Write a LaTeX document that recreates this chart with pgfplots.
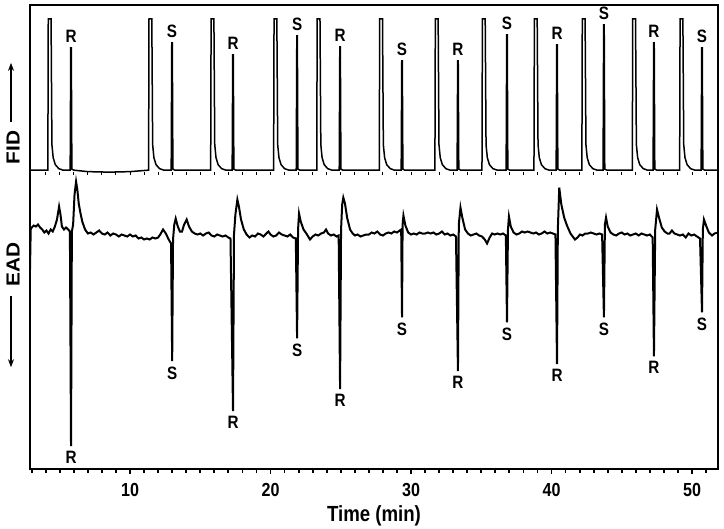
\documentclass[border=0pt]{standalone}
\usepackage{fontspec}
\setmainfont{Liberation Sans}[FakeStretch=0.85]
\newfontfamily\vertfont{Liberation Sans}[FakeStretch=1.1]
\usepackage{pgfplots}
\pgfplotsset{compat=1.18}
\usetikzlibrary{arrows.meta}

\newcommand{\pk}{\bfseries\fontsize{9}{9}\selectfont}

\begin{document}
\begin{tikzpicture}
\begin{axis}[
    scale only axis,
    width=344bp, height=232bp,
    xmin=2.88, xmax=51.85, ymin=0, ymax=465,
    clip=false,
    axis line style={line width=0.9bp},
    xtick={10,20,30,40,50},
    xticklabels={10,20,30,40,50},
    minor xtick={3,4,...,51},
    xtick pos=bottom, ytick=\empty,
    tick align=outside,
    major tick length=2.4bp, minor tick length=1.8bp,
    every tick/.style={black, line width=0.9bp},
    /pgf/number format/assume math mode=true,
    xticklabel style={font=\bfseries\fontsize{9.5}{9.5}\selectfont, yshift=-1bp},
    xlabel={Time (min)},
    xlabel style={font=\bfseries\fontsize{11}{11}\selectfont,
        at={(rel axis cs:0.5,0)}, anchor=north, inner sep=0pt, yshift=-18bp},
]

% FID trace
\addplot[black, line width=0.75bp] coordinates {
(2.88,299.5)
(4.15,299.5)(4.18,451)(4.38,451)(4.44,325)(4.53,312)(4.68,305)(4.93,301)(5.23,299.5)
(5.74,299.5)(5.78,422)(5.82,422)(5.86,300.5)(6.00,299.5)
(7.0,298)(8.5,297.5)(10.0,298)
(11.32,299.5)(11.35,451)(11.55,451)(11.61,325)(11.70,312)(11.85,305)(12.10,301)(12.40,299.5)
(12.93,299.5)(12.97,427)(13.01,427)(13.05,300.5)(13.19,299.5)
(15.74,299.5)(15.77,451)(15.97,451)(16.03,325)(16.12,312)(16.27,305)(16.52,301)(16.82,299.5)
(17.27,299.5)(17.31,415)(17.35,415)(17.39,300.5)(17.53,299.5)
(20.22,299.5)(20.25,451)(20.45,451)(20.51,325)(20.60,312)(20.75,305)(21.00,301)(21.30,299.5)
(21.83,299.5)(21.87,434)(21.91,434)(21.95,300.5)(22.09,299.5)
(23.29,299.5)(23.32,451)(23.52,451)(23.58,325)(23.67,312)(23.82,305)(24.07,301)(24.37,299.5)
(24.89,299.5)(24.93,423)(24.97,423)(25.01,300.5)(25.15,299.5)
(27.74,299.5)(27.77,451)(27.97,451)(28.03,325)(28.12,312)(28.27,305)(28.52,301)(28.82,299.5)
(29.30,299.5)(29.34,409)(29.38,409)(29.42,300.5)(29.56,299.5)
(31.70,299.5)(31.73,451)(31.93,451)(31.99,325)(32.08,312)(32.23,305)(32.48,301)(32.78,299.5)
(33.28,299.5)(33.32,409)(33.36,409)(33.40,300.5)(33.54,299.5)
(35.05,299.5)(35.08,451)(35.28,451)(35.34,325)(35.43,312)(35.58,305)(35.83,301)(36.13,299.5)
(36.77,299.5)(36.81,435)(36.85,435)(36.89,300.5)(37.03,299.5)
(38.75,299.5)(38.78,451)(38.98,451)(39.04,325)(39.13,312)(39.28,305)(39.53,301)(39.83,299.5)
(40.33,299.5)(40.37,425)(40.41,425)(40.45,300.5)(40.59,299.5)
(42.16,299.5)(42.19,451)(42.39,451)(42.45,325)(42.54,312)(42.69,305)(42.94,301)(43.24,299.5)
(43.67,299.5)(43.71,445)(43.75,445)(43.79,300.5)(43.93,299.5)
(45.75,299.5)(45.78,451)(45.98,451)(46.04,325)(46.13,312)(46.28,305)(46.53,301)(46.83,299.5)
(47.23,299.5)(47.27,427)(47.31,427)(47.35,300.5)(47.49,299.5)
(49.12,299.5)(49.15,451)(49.35,451)(49.41,325)(49.50,312)(49.65,305)(49.90,301)(50.20,299.5)
(50.65,299.5)(50.69,422)(50.73,422)(50.77,300.5)(50.91,299.5)
(51.85,299.5)
};

% small ticks under the FID baseline
\addplot[only marks, mark=|, mark size=0.6bp, line width=0.5bp] coordinates {
(4,296)(5,296)(6,296)(7,296)(8,296)(9,296)(10,296)(11,296)(12,296)(13,296)
(14,296)(15,296)(16,296)(17,296)(18,296)(19,296)(20,296)(21,296)(22,296)(23,296)
(24,296)(25,296)(26,296)(27,296)(28,296)(29,296)(30,296)(31,296)(32,296)(33,296)
(34,296)(35,296)(36,296)(37,296)(38,296)(39,296)(40,296)(41,296)(42,296)(43,296)
(44,296)(45,296)(46,296)(47,296)(48,296)(49,296)(50,296)(51,296)
};

% EAD trace
\addplot[black, line width=1bp] coordinates {
(2.88,200)(2.93,240)(3.00,242)(3.15,244)(3.30,243)(3.45,245)(3.60,242)(3.75,240)
(3.90,237)(4.05,239)(4.20,236)(4.35,240)(4.50,238)(4.65,243)(4.80,250)(4.95,263)
(5.05,255)(5.15,243)(5.30,240)(5.45,242)(5.60,240)(5.72,238)
(5.80,23)(5.86,238)(5.95,245)(6.05,275)(6.16,288)(6.25,280)(6.35,266)(6.45,258)
(6.60,248)(6.80,240)(7.00,236)(7.20,237)(7.40,235)(7.60,237)(7.80,239)(8.00,236)
(8.20,235)(8.40,237)(8.60,234)(8.80,236)(9.00,235)(9.20,233)(9.40,235)(9.60,234)
(9.80,233)(10.00,235)(10.20,233)(10.40,234)(10.60,231)(10.80,232)(11.00,230)
(11.20,231)(11.40,230)(11.60,232)(11.80,231)(12.00,232)(12.15,235)(12.35,240)
(12.55,236)(12.75,230)(12.92,226)
(13.00,108)(13.06,230)(13.15,245)(13.25,251)(13.40,243)(13.55,238)(13.70,238)
(13.85,245)(14.03,250)(14.20,243)(14.40,238)(14.60,236)(14.80,235)(15.00,236)
(15.20,234)(15.40,236)(15.60,237)(15.80,234)(16.00,233)(16.20,235)(16.40,234)
(16.60,233)(16.80,234)(17.00,232)(17.15,231)
(17.33,58)(17.40,235)(17.50,255)(17.64,270)(17.75,263)(17.90,250)(18.10,240)
(18.30,235)(18.50,232)(18.70,234)(18.90,233)(19.10,236)(19.30,235)(19.50,233)
(19.70,236)(19.85,238)(20.00,235)(20.20,233)(20.40,234)(20.60,237)(20.80,235)
(21.00,234)(21.20,233)(21.40,235)(21.60,232)(21.80,231)
(21.89,131)(21.96,240)(22.03,256)(22.15,248)(22.35,240)(22.55,236)(22.81,230)
(23.00,233)(23.20,235)(23.40,234)(23.60,236)(23.80,237)(23.95,240)(24.10,236)
(24.30,234)(24.50,235)(24.70,233)(24.85,234)
(24.95,80)(25.02,240)(25.10,265)(25.18,272)(25.30,266)(25.45,252)(25.66,240)
(25.85,236)(26.01,234)(26.20,235)(26.40,233)(26.60,234)(26.80,235)(27.00,235)
(27.20,237)(27.40,236)(27.60,238)(27.80,235)(28.00,234)(28.20,236)(28.40,237)
(28.60,236)(28.80,238)(29.00,237)(29.20,239)(29.30,240)
(29.36,152)(29.40,245)(29.46,254)(29.60,244)(29.80,237)(30.00,235)(30.20,236)
(30.40,235)(30.60,237)(30.80,236)(31.00,236)(31.20,237)(31.40,236)(31.60,237)
(31.80,235)(32.00,236)(32.20,238)(32.40,235)(32.60,236)(32.80,234)(33.00,235)
(33.20,233)
(33.34,98)(33.40,245)(33.52,262)(33.65,252)(33.85,240)(34.05,236)(34.25,234)
(34.45,235)(34.65,236)(34.85,234)(35.05,233)(35.25,230)(35.41,226)(35.60,232)
(35.77,236)(35.95,235)(36.15,236)(36.35,235)(36.55,236)(36.75,234)
(36.83,147)(36.90,240)(36.97,253)(37.10,243)(37.30,237)(37.50,235)(37.70,236)
(37.90,238)(38.10,237)(38.30,238)(38.50,237)(38.70,236)(38.90,237)(39.10,235)
(39.30,236)(39.50,238)(39.70,236)(39.90,237)(40.10,236)(40.28,235)
(40.39,105)(40.45,240)(40.55,282)(40.70,265)(40.90,252)(41.10,244)(41.35,236)
(41.67,230)(41.85,232)(42.03,235)(42.20,234)(42.40,236)(42.60,236)(42.80,237)
(43.00,236)(43.20,235)(43.40,236)(43.60,235)
(43.73,152)(43.80,245)(43.88,252)(44.00,243)(44.20,237)(44.40,235)(44.60,234)
(44.80,236)(45.00,237)(45.20,235)(45.40,236)(45.60,234)(45.80,235)(46.00,236)
(46.20,234)(46.40,236)(46.60,235)(46.80,234)(47.00,235)(47.20,232)
(47.29,113)(47.38,240)(47.51,260)(47.65,252)(47.85,242)(48.05,238)(48.25,236)
(48.40,236)(48.57,239)(48.75,236)(48.95,235)(49.14,234)(49.35,235)(49.55,232)
(49.75,236)(49.95,234)(50.15,235)(50.35,233)(50.57,231)
(50.71,157)(50.77,240)(50.85,250)(51.00,244)(51.20,237)(51.42,234)(51.60,236)
(51.85,237)
};

% peak labels, FID
\node[font=\pk, anchor=south, inner sep=0pt] at (axis cs:5.80,427) {R};
\node[font=\pk, anchor=south, inner sep=0pt] at (axis cs:12.99,432) {S};
\node[font=\pk, anchor=south, inner sep=0pt] at (axis cs:17.33,420) {R};
\node[font=\pk, anchor=south, inner sep=0pt] at (axis cs:21.89,439) {S};
\node[font=\pk, anchor=south, inner sep=0pt] at (axis cs:24.95,428) {R};
\node[font=\pk, anchor=south, inner sep=0pt] at (axis cs:29.36,414) {S};
\node[font=\pk, anchor=south, inner sep=0pt] at (axis cs:33.34,414) {R};
\node[font=\pk, anchor=south, inner sep=0pt] at (axis cs:36.83,440) {S};
\node[font=\pk, anchor=south, inner sep=0pt] at (axis cs:40.39,430) {R};
\node[font=\pk, anchor=south, inner sep=0pt] at (axis cs:43.73,450) {S};
\node[font=\pk, anchor=south, inner sep=0pt] at (axis cs:47.29,432) {R};
\node[font=\pk, anchor=south, inner sep=0pt] at (axis cs:50.71,427) {S};

% peak labels, EAD
\node[font=\pk, anchor=north, inner sep=0pt] at (axis cs:5.80,18) {R};
\node[font=\pk, anchor=north, inner sep=0pt] at (axis cs:13.00,103) {S};
\node[font=\pk, anchor=north, inner sep=0pt] at (axis cs:17.33,53) {R};
\node[font=\pk, anchor=north, inner sep=0pt] at (axis cs:21.89,126) {S};
\node[font=\pk, anchor=north, inner sep=0pt] at (axis cs:24.95,75) {R};
\node[font=\pk, anchor=north, inner sep=0pt] at (axis cs:29.36,147) {S};
\node[font=\pk, anchor=north, inner sep=0pt] at (axis cs:33.34,93) {R};
\node[font=\pk, anchor=north, inner sep=0pt] at (axis cs:36.83,142) {S};
\node[font=\pk, anchor=north, inner sep=0pt] at (axis cs:40.39,100) {R};
\node[font=\pk, anchor=north, inner sep=0pt] at (axis cs:43.73,147) {S};
\node[font=\pk, anchor=north, inner sep=0pt] at (axis cs:47.29,108) {R};
\node[font=\pk, anchor=north, inner sep=0pt] at (axis cs:50.71,152) {S};

% side labels
\node[rotate=90, inner sep=0pt, font=\vertfont\bfseries\fontsize{9.5}{9.5}\selectfont]
    at ([xshift=-8.5bp]axis cs:2.88,322) {FID};
\draw[line width=0.6bp, -{Stealth[length=4bp,width=3bp]}]
    ([xshift=-9.5bp]axis cs:2.88,348) -- ([xshift=-9.5bp]axis cs:2.88,407);
\node[rotate=90, inner sep=0pt, font=\vertfont\bfseries\fontsize{9.5}{9.5}\selectfont]
    at ([xshift=-8.5bp]axis cs:2.88,205) {EAD};
\draw[line width=0.6bp, -{Stealth[length=4bp,width=3bp]}]
    ([xshift=-9.5bp]axis cs:2.88,173) -- ([xshift=-9.5bp]axis cs:2.88,102);
\end{axis}
\pgfresetboundingbox
\path ([shift={(-15bp,-30bp)}]current axis.south west)
    rectangle ([shift={(3bp,2.5bp)}]current axis.north east);
\end{tikzpicture}
\end{document}
